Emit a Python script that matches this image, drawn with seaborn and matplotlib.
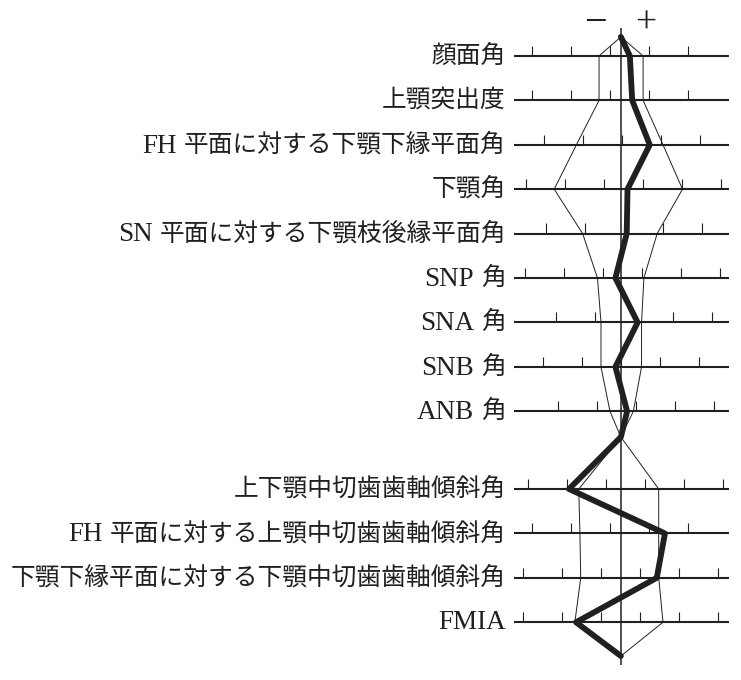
import pandas as pd
import seaborn as sns
import matplotlib.pyplot as plt

sns.set_style("white")
plt.rcParams["font.family"] = ["Liberation Serif", "Noto Sans CJK JP"]

# ---------------------------
# Data (offsets from the mean, in SD units)
# ---------------------------
labels = [
    "顔面角",
    "上顎突出度",
    "FH 平面に対する下顎下縁平面角",
    "下顎角",
    "SN 平面に対する下顎枝後縁平面角",
    "SNP 角",
    "SNA 角",
    "SNB 角",
    "ANB 角",
    "上下顎中切歯歯軸傾斜角",
    "FH 平面に対する上顎中切歯歯軸傾斜角",
    "下顎下縁平面に対する下顎中切歯歯軸傾斜角",
    "FMIA",
]
subject = [0.23, 0.29, 0.74, 0.17, 0.15, -0.14, 0.43, -0.14, 0.16,
           -1.33, 1.13, 0.92, -1.15]
norm_lo = [-0.56, -0.56, -1.14, -1.71, -0.98, -0.60, -0.51, -0.51, -0.28,
           -1.08, -1.05, -1.03, -1.18]
norm_hi = [0.57, 0.57, 1.08, 1.58, 0.93, 0.59, 0.53, 0.53, 0.32,
           0.97, 0.97, 0.97, 1.08]
tick_phase = [-0.29, -0.29, 0.03, -0.44, 0.09, -0.47, 0.34, 0.0, 0.38,
              -0.39, -0.28, -0.52, -0.51]

# ---------------------------
# Layout
# ---------------------------
ink = "#231f20"
n_top = 9
pos = list(range(n_top)) + [n_top + 0.75 + i for i in range(len(labels) - n_top)]
apex_top, apex_mid, apex_bot = -0.43, 8.58, 13.51
x_left, x_right = -2.74, 2.77
XLIM, YLIM = (-15.92, 3.08), (14.05, -1.26)

fig = plt.figure(figsize=(7.41, 6.8), dpi=100)
ax = fig.add_axes([0, 0, 1, 1])

# row scales with ticks
ax.hlines(pos, x_left, x_right, color=ink, lw=1.5, zorder=2)
for y, ph in zip(pos, tick_phase):
    ticks = [ph + k for k in range(-3, 4) if -2.58 <= ph + k <= 2.64]
    ax.vlines(ticks, y - 0.23, y, color=ink, lw=0.8, zorder=2)

# centre line
ax.vlines(0, -0.63, 13.72, color=ink, lw=1.1, zorder=2)

# norm band (thin polygon)
top_y = [apex_top] + pos[:n_top] + [apex_mid]
bot_y = [apex_mid] + pos[n_top:] + [apex_bot]
for side in (norm_lo, norm_hi):
    sns.lineplot(x=[0] + side[:n_top] + [0], y=top_y, sort=False,
                 estimator=None, color=ink, lw=0.7, ax=ax, zorder=3)
    sns.lineplot(x=[0] + side[n_top:] + [0], y=bot_y, sort=False,
                 estimator=None, color=ink, lw=0.7, ax=ax, zorder=3)

# subject profile (thick line)
prof = pd.DataFrame({
    "x": [0] + subject[:n_top] + [0] + subject[n_top:] + [0],
    "y": [apex_top] + pos[:n_top] + [apex_mid] + pos[n_top:] + [apex_bot],
})
sns.lineplot(data=prof, x="x", y="y", sort=False, estimator=None,
             color=ink, lw=4.2, ax=ax, zorder=4)
ax.set_xlim(*XLIM)
ax.set_ylim(*YLIM)
ax.set_axis_off()

# labels: Latin prefix in a larger serif size, Japanese part after it
fig.canvas.draw()
renderer = fig.canvas.get_renderer()
label_x = -2.95
for y, lab in zip(pos, labels):
    if lab.isascii():
        ax.text(label_x, y, lab, ha="right", va="center", fontsize=19.5,
                color=ink)
        continue
    latin, _, jp = lab.partition(" ") if " " in lab else ("", "", lab)
    t = ax.text(label_x, y, jp, ha="right", va="center", fontsize=17.8,
                color=ink)
    if latin:
        bb = t.get_window_extent(renderer)
        left = ax.transData.inverted().transform((bb.x0 - 7, 0))[0]
        ax.text(left, y + 0.03, latin, ha="right", va="center",
                fontsize=19.5, color=ink)

ax.text(-0.62, -0.74, "−", ha="center", va="center", fontsize=29, color=ink)
ax.text(0.64, -0.74, "+", ha="center", va="center", fontsize=27, color=ink)

fig.savefig("out.png", dpi=100)
